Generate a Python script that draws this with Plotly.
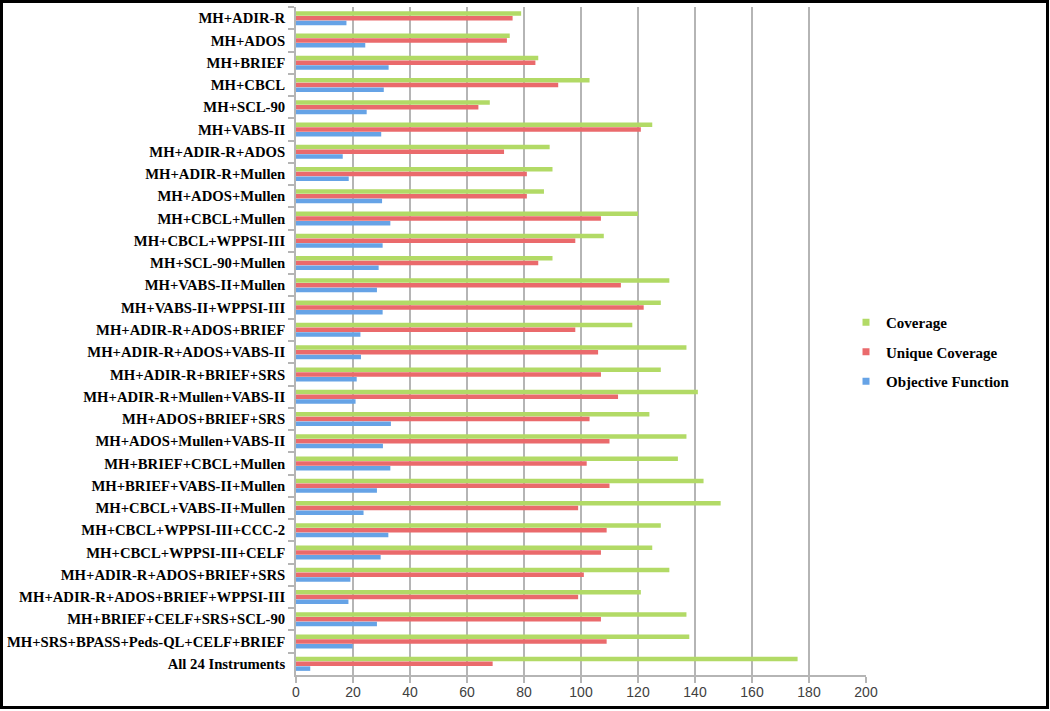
import plotly.graph_objects as go

categories = [
    "MH+ADIR-R", "MH+ADOS", "MH+BRIEF", "MH+CBCL", "MH+SCL-90", "MH+VABS-II",
    "MH+ADIR-R+ADOS", "MH+ADIR-R+Mullen", "MH+ADOS+Mullen", "MH+CBCL+Mullen",
    "MH+CBCL+WPPSI-III", "MH+SCL-90+Mullen", "MH+VABS-II+Mullen", "MH+VABS-II+WPPSI-III",
    "MH+ADIR-R+ADOS+BRIEF", "MH+ADIR-R+ADOS+VABS-II", "MH+ADIR-R+BRIEF+SRS",
    "MH+ADIR-R+Mullen+VABS-II", "MH+ADOS+BRIEF+SRS", "MH+ADOS+Mullen+VABS-II",
    "MH+BRIEF+CBCL+Mullen", "MH+BRIEF+VABS-II+Mullen", "MH+CBCL+VABS-II+Mullen",
    "MH+CBCL+WPPSI-III+CCC-2", "MH+CBCL+WPPSI-III+CELF", "MH+ADIR-R+ADOS+BRIEF+SRS",
    "MH+ADIR-R+ADOS+BRIEF+WPPSI-III", "MH+BRIEF+CELF+SRS+SCL-90",
    "MH+SRS+BPASS+Peds-QL+CELF+BRIEF", "All 24 Instruments",
]

coverage = [79, 75, 85, 103, 68, 125, 89, 90, 87, 120,
            108, 90, 131, 128, 118, 137, 128, 141, 124, 137,
            134, 143, 149, 128, 125, 131, 121, 137, 138, 176]

unique_coverage = [76, 74, 84, 92, 64, 121, 73, 81, 81, 107,
                   98, 85, 114, 122, 98, 106, 107, 113, 103, 110,
                   102, 110, 99, 109, 107, 101, 99, 107, 109, 69]

objective_function = [17.7, 24.3, 32.5, 30.8, 24.8, 29.9, 16.4, 18.5, 30.2, 33.1,
                      30.4, 29.0, 28.4, 30.4, 22.6, 22.8, 21.3, 20.9, 33.3, 30.5,
                      33.1, 28.4, 23.7, 32.4, 29.7, 19.1, 18.4, 28.4, 19.9, 5.0]

x_ticks = [0, 20, 40, 60, 80, 100, 120, 140, 160, 180, 200]

series = [
    ("Coverage", coverage, "#b2da66"),
    ("Unique Coverage", unique_coverage, "#ea6a6c"),
    ("Objective Function", objective_function, "#66a3e6"),
]

fig = go.Figure()
for name, vals, color in series:
    fig.add_trace(go.Bar(
        y=categories, x=vals, name=name, orientation="h",
        marker=dict(color=color, line=dict(width=0)),
        showlegend=False, legendgroup=name,
    ))
# legend entries with small square swatches
for name, vals, color in series:
    fig.add_trace(go.Scatter(
        x=[None], y=[None], mode="markers", name=name, legendgroup=name,
        marker=dict(symbol="square", size=7, color=color),
        showlegend=True,
    ))

W, H = 1050, 711
ml, mr, mt, mb = 296, 184, 7, 36
pw = W - ml - mr
ph = H - mt - mb

def px_to_paper_x(px):
    return (px - ml) / pw

def px_to_paper_y(py):
    return (H - mb - py) / ph

fig.update_layout(
    width=W, height=H,
    margin=dict(l=ml, r=mr, t=mt, b=mb, autoexpand=False),
    plot_bgcolor="white", paper_bgcolor="white",
    barmode="group", bargap=0.36, bargroupgap=0.05,
    showlegend=True,
    legend=dict(
        x=px_to_paper_x(846), y=px_to_paper_y(352), xanchor="left", yanchor="middle",
        font=dict(family="Liberation Serif", size=15, color="black", weight="bold"),
        itemwidth=30, tracegroupgap=7,
        bgcolor="rgba(0,0,0,0)",
    ),
    xaxis=dict(
        range=[0, 200], tickvals=x_ticks, showgrid=True, gridcolor="#b5b5b5", gridwidth=1.8,
        showline=True, linecolor="#b5b5b5", linewidth=1.8,
        ticks="outside", ticklen=6, tickcolor="#b5b5b5", tickwidth=1.5,
        ticklabelstandoff=-3,
        tickfont=dict(family="Liberation Sans", size=14, color="#404040", weight="normal"),
        zeroline=False, fixedrange=True,
    ),
    yaxis=dict(
        autorange="reversed", type="category",
        showline=True, linecolor="#b5b5b5", linewidth=1.8,
        ticks="outside", ticklen=6, tickcolor="#b5b5b5", tickwidth=1.5,
        tickson="boundaries", ticklabelstandoff=6,
        tickfont=dict(family="Liberation Serif", size=14.7, color="black", weight="bold"),
        showgrid=False, fixedrange=True,
    ),
)

fig.add_shape(
    type="rect", xref="paper", yref="paper",
    x0=px_to_paper_x(1.5), x1=px_to_paper_x(1047.5),
    y0=px_to_paper_y(707.5), y1=px_to_paper_y(1.5),
    line=dict(color="black", width=3), fillcolor="rgba(0,0,0,0)", layer="above",
)

fig.write_html("out.html", config={"displayModeBar": False},
               post_script="document.body.style.margin='0';")
